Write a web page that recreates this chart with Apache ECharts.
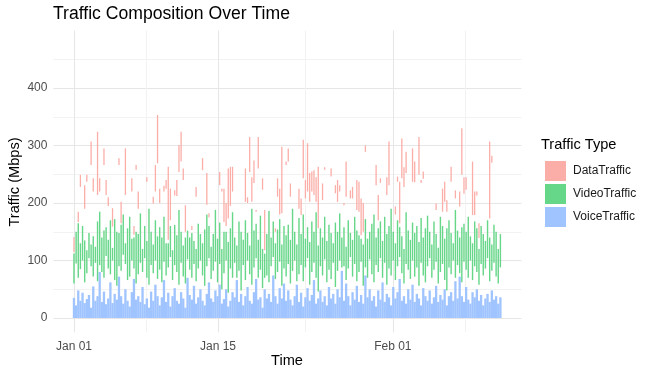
<!DOCTYPE html>
<html>
<head>
<meta charset="utf-8">
<script src="https://cdn.jsdelivr.net/npm/echarts@6/dist/echarts.min.js"></script>
<style>
  html, body { margin: 0; padding: 0; background: #fff; }
  #chart { width: 653px; height: 377px; }
</style>
</head>
<body>
<div id="chart"></div>
<script>
// one column every 5 hours, starting Jan 01 00:00
const STEP_HOURS = 5;

const voiceTraffic = [
  35, 22, 48, 30, 44, 26, 33, 40, 18, 55, 30, 38, 80, 28, 46, 24, 34, 62, 26, 42,
  32, 72, 38, 25, 50, 30, 20, 45, 68, 32, 38, 28, 54, 24, 34, 18, 46, 30, 58, 38,
  22, 36, 66, 28, 44, 20, 38, 52, 30, 25, 45, 34, 18, 70, 40, 32, 56, 25, 36, 50,
  30, 22, 42, 62, 34, 28, 48, 38, 58, 25, 33, 50, 20, 30, 45, 36, 66, 28, 42, 22,
  38, 54, 30, 25, 45, 68, 32, 36, 18, 50, 34, 42, 28, 74, 38, 25, 52, 34, 60, 30,
  48, 32, 22, 38, 58, 28, 44, 20, 36, 52, 30, 40, 66, 25, 34, 48, 28, 38, 22, 54,
  34, 42, 25, 50, 36, 82, 30, 60, 38, 22, 45, 32, 56, 28, 40, 25, 74, 36, 50, 30,
  38, 20, 48, 32, 62, 28, 42, 36, 22, 54, 34, 45, 68, 30, 38, 25, 50, 32, 58, 28,
  42, 34, 22, 52, 38, 30, 48, 25, 36, 56, 28, 40, 32, 50, 22, 38, 45, 30, 64, 34,
  72, 38, 28, 54, 32, 25, 45, 36, 50, 30, 40, 22, 34, 42, 28, 48, 32, 38, 25, 36
];

// visible video band (stack level, Mbps) per column
const videoLow = [
  60, 95, 70, 85, 100, 62, 78, 104, 90, 72, 96, 64, 92, 80, 70, 108, 86, 76, 100, 66,
  56, 90, 82, 110, 94, 66, 72, 100, 86, 60, 76, 96, 80, 104, 70, 58, 92, 78, 100, 68,
  84, 62, 98, 74, 88, 106, 66, 92, 80, 58, 96, 72, 60, 102, 84, 70, 94, 64, 86, 100,
  74, 56, 90, 104, 68, 82, 98, 62, 94, 50, 78, 100, 44, 86, 70, 96, 70, 82, 48, 92,
  66, 100, 76, 58, 88, 104, 70, 84, 52, 70, 74, 62, 90, 106, 68, 80, 98, 56, 86, 72,
  94, 60, 82, 100, 64, 76, 92, 64, 88, 104, 58, 80, 96, 70, 46, 90, 74, 102, 62, 84,
  68, 96, 54, 82, 100, 88, 90, 66, 86, 106, 72, 94, 64, 80, 98, 56, 88, 70, 102, 76,
  62, 92, 80, 104, 70, 96, 58, 86, 74, 100, 66, 90, 106, 78, 60, 94, 84, 68, 100, 72,
  88, 56, 96, 74, 62, 90, 104, 70, 84, 98, 60, 80, 94, 66, 48, 88, 76, 100, 70, 92,
  78, 62, 98, 84, 70, 100, 66, 90, 80, 58, 94, 74, 86, 104, 64, 82, 96, 72, 60, 88
];

const videoHigh = [
  112, 150, 165, 130, 160, 135, 118, 148, 128, 142, 124, 168, 185, 140, 152, 158, 136, 170, 122, 172,
  150, 148, 162, 180, 130, 156, 176, 138, 140, 150, 146, 182, 120, 160, 134, 190, 150, 128, 170, 142,
  158, 140, 176, 130, 130, 160, 118, 162, 144, 188, 150, 126, 140, 152, 140, 148, 134, 120, 164, 146,
  130, 154, 180, 160, 124, 146, 188, 138, 166, 120, 150, 150, 132, 156, 184, 140, 126, 168, 150, 136,
  170, 148, 126, 190, 152, 164, 136, 178, 120, 112, 146, 186, 140, 168, 130, 154, 172, 128, 160, 144,
  162, 136, 190, 150, 128, 174, 146, 180, 138, 158, 132, 168, 150, 184, 126, 156, 140, 176, 134, 162,
  148, 130, 166, 150, 182, 140, 158, 124, 170, 148, 136, 176, 152, 144, 138, 128, 172, 138, 150, 164,
  180, 140, 156, 168, 134, 176, 146, 160, 190, 150, 130, 170, 158, 142, 120, 184, 152, 136, 166, 148,
  160, 132, 174, 140, 156, 178, 150, 128, 168, 146, 122, 176, 160, 138, 156, 170, 148, 130, 188, 152,
  140, 158, 164, 150, 176, 142, 130, 168, 156, 120, 160, 146, 134, 170, 140, 128, 162, 150, 120, 146
];

// data traffic band, only where it shows
const dataIdx = [
  0, 2, 3, 5, 6, 8, 9, 11, 12, 14, 15, 16, 18, 21, 22, 24, 27, 28, 29, 30,
  34, 37, 38, 39, 40, 42, 43, 44, 45, 47, 48, 49, 50, 51, 52, 55, 57, 60, 62, 63,
  68, 69, 70, 71, 72, 73, 74, 80, 81, 82, 83, 84, 85, 86, 88, 89, 94, 95, 96, 97, 99,
  100, 101, 105, 106, 107, 108, 109, 110, 111, 112, 113, 114, 116, 117, 120, 122, 123, 124, 126, 127, 129, 130, 132, 133,
  134, 135, 136, 141, 142, 143, 146, 147, 150, 151, 152, 153, 154, 155, 158, 159, 161, 162, 163,
  169, 172, 173, 174, 176, 178, 180, 181, 182, 183, 186, 187, 188, 189, 194, 195
];
const dataLow = [
  115, 167, 228, 190, 237, 266, 220, 214, 220, 266, 214, 195, 159, 266, 165, 214, 220, 145, 258, 190,
  237, 199, 220, 269, 200, 220, 225, 136, 170, 213, 212, 254, 272, 240, 150, 153, 211, 257, 197, 175,
  231, 220, 167, 160, 173, 195, 220, 202, 200, 254, 202, 235, 185, 260, 223, 118, 150, 211, 180, 182, 266,
  272, 211, 190, 179, 243, 208, 220, 202, 220, 214, 202, 156, 205, 258, 246, 217, 202, 220, 196, 211, 208, 208, 188, 185,
  144, 150, 289, 231, 170, 235, 214, 231, 180, 237, 165, 243, 228, 252, 237, 236, 249, 235, 242,
  188, 185, 202, 185, 237, 208, 194, 249, 216, 223, 179, 179, 213, 139, 173, 270
];
const dataHigh = [
  141, 185, 249, 231, 249, 307, 243, 324, 243, 295, 240, 210, 191, 278, 202, 295, 243, 160, 266, 220,
  245, 211, 266, 353, 225, 230, 240, 263, 225, 222, 240, 301, 324, 260, 196, 160, 228, 278, 252, 182,
  254, 225, 225, 200, 260, 263, 263, 260, 210, 315, 245, 274, 188, 315, 243, 188, 156, 243, 225, 298, 272,
  295, 234, 225, 208, 310, 240, 304, 252, 255, 257, 245, 263, 234, 262, 260, 231, 240, 231, 200, 272, 222, 228, 240, 237,
  208, 200, 300, 266, 214, 243, 245, 307, 194, 246, 237, 312, 262, 289, 295, 272, 315, 240, 255,
  199, 225, 237, 205, 263, 222, 220, 330, 245, 245, 272, 220, 220, 165, 307, 282
];

const tickDays = [0, 14, 31];
const tickLabels = ['Jan 01', 'Jan 15', 'Feb 01'];
const minorDays = [7, 22.5, 38];
const yMajor = [0, 100, 200, 300, 400];
const yMinor = [50, 150, 250, 350, 450];

const FONT = '"Liberation Sans", Arial, sans-serif';
const COLORS = { data: '#FBADA7', video: '#66D688', voice: '#A0C4FF' };
const STEP_DAYS = STEP_HOURS / 24;

const dayOf = i => i * STEP_DAYS;

const voiceData = voiceTraffic.map((v, i) => [dayOf(i), 0, v]);
const videoData = videoLow.map((v, i) => [dayOf(i), v, videoHigh[i]]);
const dataData = dataIdx.map((idx, k) => [dayOf(idx), dataLow[k], dataHigh[k]]);

// vertical band from value(1) to value(2), width a share of one column step
const bandRenderer = (share, color) => (params, api) => {
  const x = api.value(0);
  const lo = api.coord([x, api.value(1)]);
  const hi = api.coord([x, api.value(2)]);
  const w = api.size([STEP_DAYS, 0])[0] * share;
  return {
    type: 'rect',
    shape: { x: lo[0] - w / 2, y: hi[1], width: w, height: lo[1] - hi[1] },
    style: { fill: color }
  };
};

const gridLines = [
  ...yMajor.map(v => ({ yAxis: v, lineStyle: { color: '#e6e6e6', width: 1 } })),
  ...yMinor.map(v => ({ yAxis: v, lineStyle: { color: '#f2f2f2', width: 1 } })),
  ...tickDays.map(v => ({ xAxis: v, lineStyle: { color: '#e6e6e6', width: 1 } })),
  ...minorDays.map(v => ({ xAxis: v, lineStyle: { color: '#f2f2f2', width: 1 } }))
];

const chart = echarts.init(document.getElementById('chart'), null, { renderer: 'canvas' });

const option = {
  animation: false,
  backgroundColor: '#fff',
  textStyle: { fontFamily: FONT },
  grid: { left: 53.4, right: 131.6, top: 30.5, bottom: 44.6, containLabel: false },
  xAxis: {
    type: 'value',
    min: -2,
    max: 43.5,
    interval: 0.5,
    axisLine: { show: false },
    axisTick: { show: false },
    splitLine: { show: false },
    axisLabel: {
      color: '#4d4d4d',
      fontSize: 12,
      margin: 8,
      fontFamily: FONT,
      formatter: v => {
        const k = tickDays.findIndex(d => Math.abs(d - v) < 1e-6);
        return k >= 0 ? tickLabels[k] : '';
      }
    }
  },
  yAxis: {
    type: 'value',
    min: -25,
    max: 500,
    interval: 25,
    axisLine: { show: false },
    axisTick: { show: false },
    splitLine: { show: false },
    axisLabel: {
      color: '#4d4d4d',
      fontSize: 12,
      margin: 6,
      fontFamily: FONT,
      formatter: v => (yMajor.includes(v) ? String(v) : '')
    }
  },
  legend: {
    orient: 'vertical',
    left: 545,
    top: 161,
    padding: 0,
    itemWidth: 21,
    itemHeight: 20,
    itemGap: 3,
    icon: 'rect',
    data: ['DataTraffic', 'VideoTraffic', 'VoiceTraffic'],
    textStyle: { color: '#1a1a1a', fontSize: 12, fontFamily: FONT, padding: [0, 0, 0, 2] },
    selectedMode: false
  },
  graphic: [
    { type: 'text', left: 53, top: 5, style: { text: 'Traffic Composition Over Time', fontSize: 17.6, fontFamily: FONT, fill: '#000' } },
    { type: 'text', left: 541, top: 137, style: { text: 'Traffic Type', fontSize: 14.6, fontFamily: FONT, fill: '#000' } },
    { type: 'text', x: 287, y: 361, style: { text: 'Time', fontSize: 14.6, fontFamily: FONT, fill: '#000', align: 'center', verticalAlign: 'middle' } },
    { type: 'text', x: 15, y: 182, rotation: Math.PI / 2, style: { text: 'Traffic (Mbps)', fontSize: 14.6, fontFamily: FONT, fill: '#000', align: 'center', verticalAlign: 'middle' } }
  ],
  series: [
    {
      name: 'grid', type: 'line', data: [], silent: true,
      markLine: {
        silent: true, symbol: 'none', z: 1, animation: false,
        label: { show: false }, emphasis: { disabled: true },
        lineStyle: { type: 'solid' },
        data: gridLines
      }
    },
    {
      name: 'VoiceTraffic', type: 'custom', z: 3, silent: true,
      itemStyle: { color: COLORS.voice },
      encode: { x: 0, y: [1, 2] },
      renderItem: bandRenderer(1.08, COLORS.voice),
      data: voiceData
    },
    {
      name: 'VideoTraffic', type: 'custom', z: 3, silent: true,
      itemStyle: { color: COLORS.video },
      encode: { x: 0, y: [1, 2] },
      renderItem: bandRenderer(0.66, COLORS.video),
      data: videoData
    },
    {
      name: 'DataTraffic', type: 'custom', z: 3, silent: true,
      itemStyle: { color: COLORS.data },
      encode: { x: 0, y: [1, 2] },
      renderItem: bandRenderer(0.6, COLORS.data),
      data: dataData
    }
  ]
};

chart.setOption(option);
</script>
</body>
</html>
